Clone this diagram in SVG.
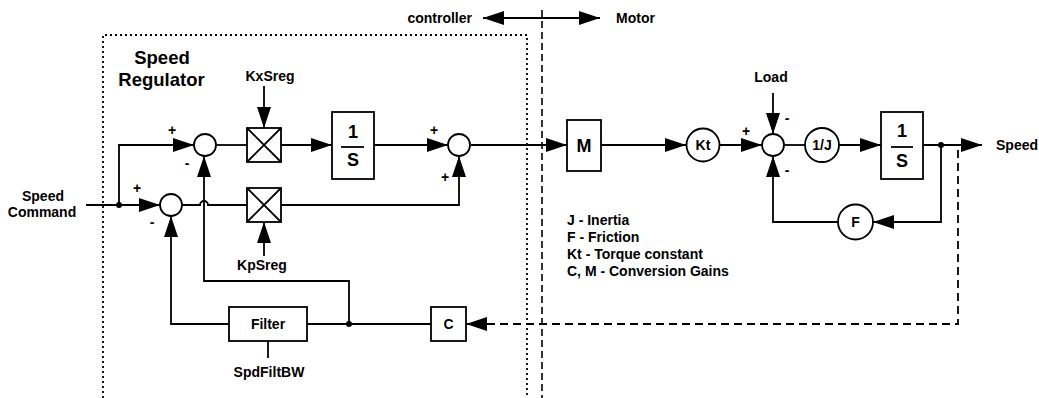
<svg xmlns="http://www.w3.org/2000/svg" width="1039" height="398" viewBox="0 0 1039 398">
<style>
text{font-family:"Liberation Sans",Arial,sans-serif;font-weight:bold;fill:#000}
.s{font-size:14px}
.b{font-size:18px}
.t{font-size:18.5px}
.ln{fill:none;stroke:#000;stroke-width:1.8}
.bx{fill:#fff;stroke:#000;stroke-width:1.8}
.dot{fill:#000}
</style>
<defs>
<marker id="ar" viewBox="0 0 21 14" refX="21" refY="7" markerWidth="21" markerHeight="14" markerUnits="userSpaceOnUse" orient="auto">
<path d="M0,0 L21,7 L0,14 Z" fill="#000"/>
</marker>
<marker id="as" viewBox="0 0 21 14" refX="0" refY="7" markerWidth="21" markerHeight="14" markerUnits="userSpaceOnUse" orient="auto">
<path d="M21,0 L0,7 L21,14 Z" fill="#000"/>
</marker>
</defs>

<g id="boundaries">
<path d="M103,398 V35 H527 V398" fill="none" stroke="#000" stroke-width="1.8" stroke-dasharray="2 3"/>
<path d="M542,10 V398" fill="none" stroke="#000" stroke-width="1.6" stroke-dasharray="7 4"/>
<text class="t" x="162" y="64" text-anchor="middle">Speed</text>
<text class="t" x="161.5" y="86" text-anchor="middle">Regulator</text>
<text class="s" x="472" y="23" text-anchor="end">controller</text>
<text class="s" x="616" y="23">Motor</text>
</g>

<g id="connectors">
<path class="ln" d="M483,18 H600" marker-start="url(#as)" marker-end="url(#ar)"/>
<path class="ln" d="M86,205 H160" marker-end="url(#ar)"/>
<path class="ln" d="M119,205 V145 H194" marker-end="url(#ar)"/>
<path class="ln" d="M216,145 H247"/>
<path class="ln" d="M264,86 V128" marker-end="url(#ar)"/>
<path class="ln" d="M281,145 H332" marker-end="url(#ar)"/>
<path class="ln" d="M374,145 H448" marker-end="url(#ar)"/>
<path class="ln" d="M471,145 H567" marker-end="url(#ar)"/>
<path class="ln" d="M182,205 H200 A4,4 0 0 1 208,205 H247"/>
<path class="ln" d="M264,256 V222" marker-end="url(#ar)"/>
<path class="ln" d="M281,205 H459 V156" marker-end="url(#ar)"/>
<path class="ln" d="M431,324 H307"/>
<path class="ln" d="M349,324 V281 H204 V156" marker-end="url(#ar)"/>
<path class="ln" d="M229,324 H171 V216" marker-end="url(#ar)"/>
<path class="ln" d="M268,341 V358"/>
<path fill="none" stroke="#000" stroke-width="1.8" stroke-dasharray="8 5" d="M958,150 V324 H466" marker-end="url(#ar)"/>
<path class="ln" d="M601,145 H686" marker-end="url(#ar)"/>
<path class="ln" d="M719,145 H762" marker-end="url(#ar)"/>
<path class="ln" d="M773,93 V134" marker-end="url(#ar)"/>
<path class="ln" d="M784,145 H805"/>
<path class="ln" d="M839,145 H881" marker-end="url(#ar)"/>
<path class="ln" d="M923,145 H982" marker-end="url(#ar)"/>
<path class="ln" d="M941,145 V222 H873" marker-end="url(#ar)"/>
<path class="ln" d="M838,222 H773 V156" marker-end="url(#ar)"/>
<circle class="dot" cx="119" cy="205" r="3"/>
<circle class="dot" cx="349" cy="324" r="3"/>
<circle class="dot" cx="941" cy="145" r="3"/>
</g>

<g id="speed-command"><text class="s" x="43" y="201" text-anchor="middle">Speed</text><text class="s" x="42" y="217" text-anchor="middle">Command</text></g>

<g id="sum1"><circle class="bx" cx="205" cy="145" r="11"/><text class="s" x="172" y="135" text-anchor="middle">+</text><text class="s" x="187" y="168" text-anchor="middle">-</text></g>
<g id="sum2"><circle class="bx" cx="171" cy="205" r="11"/><text class="s" x="137" y="193" text-anchor="middle">+</text><text class="s" x="152" y="227" text-anchor="middle">-</text></g>
<g id="mulKx"><rect class="bx" x="247" y="128" width="34" height="34"/><path class="ln" d="M247,128 L281,162 M281,128 L247,162" stroke-width="1.3"/><text class="s" x="270" y="81" text-anchor="middle">KxSreg</text></g>
<g id="mulKp"><rect class="bx" x="247" y="188" width="34" height="34"/><path class="ln" d="M247,188 L281,222 M281,188 L247,222" stroke-width="1.3"/><text class="s" x="262" y="270" text-anchor="middle">KpSreg</text></g>
<g id="integ1"><rect class="bx" x="332" y="112" width="42" height="67"/><text class="b" x="353" y="138" text-anchor="middle">1</text><path class="ln" d="M341,147 H364"/><text class="b" x="353" y="166" text-anchor="middle">S</text></g>
<g id="sum3"><circle class="bx" cx="459" cy="145" r="11"/><text class="s" x="434" y="135" text-anchor="middle">+</text><text class="s" x="445" y="182" text-anchor="middle">+</text></g>
<g id="filter"><rect class="bx" x="229" y="307" width="78" height="34"/><text class="s" x="268" y="329" text-anchor="middle">Filter</text><text class="s" x="269" y="377" text-anchor="middle">SpdFiltBW</text></g>
<g id="convC"><rect class="bx" x="431" y="307" width="35" height="34"/><text class="s" x="448.5" y="329" text-anchor="middle">C</text></g>
<g id="convM"><rect class="bx" x="567" y="120" width="34" height="51"/><text class="b" x="584" y="152" text-anchor="middle">M</text></g>
<g id="kt"><circle class="bx" cx="703" cy="145" r="16.5"/><text class="s" x="703" y="150" text-anchor="middle">Kt</text></g>
<g id="sum4"><circle class="bx" cx="773" cy="145" r="11"/><text class="s" x="746" y="136" text-anchor="middle">+</text><text class="s" x="787" y="123" text-anchor="middle">-</text><text class="s" x="787" y="175" text-anchor="middle">-</text><text class="s" x="771" y="82" text-anchor="middle">Load</text></g>
<g id="invJ"><circle class="bx" cx="822" cy="145" r="17"/><text class="s" x="822" y="150" text-anchor="middle">1/J</text></g>
<g id="integ2"><rect class="bx" x="881" y="112" width="42" height="67"/><text class="b" x="902" y="137" text-anchor="middle">1</text><path class="ln" d="M891,147 H913"/><text class="b" x="902" y="167" text-anchor="middle">S</text><text class="s" x="996" y="150">Speed</text></g>
<g id="fric"><circle class="bx" cx="855.5" cy="222" r="17.5"/><text class="s" x="855.5" y="227" text-anchor="middle">F</text></g>
<g id="legend">
<text class="s" x="567" y="225">J - Inertia</text>
<text class="s" x="567" y="242">F - Friction</text>
<text class="s" x="567" y="259">Kt - Torque constant</text>
<text class="s" x="567" y="276">C, M - Conversion Gains</text>
</g>
</svg>
